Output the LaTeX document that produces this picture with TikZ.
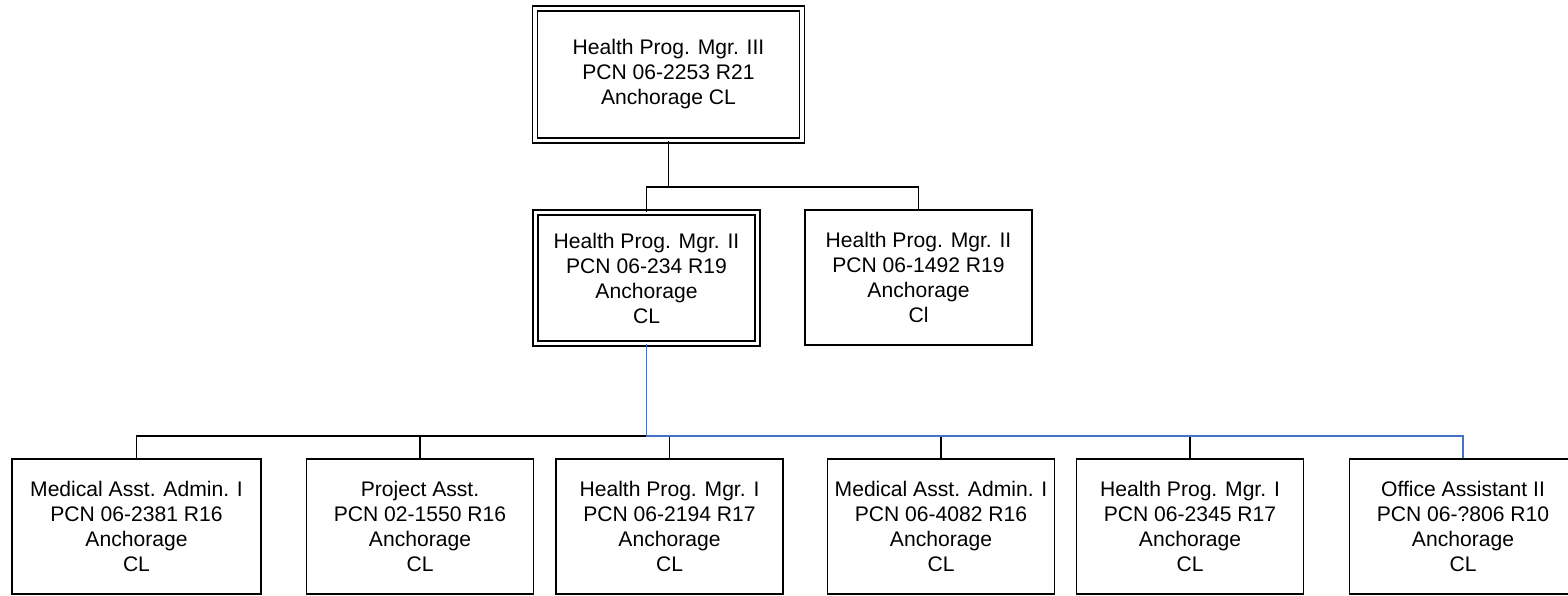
\documentclass[tikz,border=0pt]{standalone}
\usepackage{fontspec}
\setmainfont{Liberation Sans}
\definecolor{linkblue}{RGB}{68,114,196}
\tikzset{
  box/.style={draw=black, line width=1.5pt, fill=white, inner sep=0pt, align=center,
    font=\fontsize{21.1}{25}\selectfont, minimum height=135pt, minimum width=227pt},
  dbox/.style={box, double=white, double distance=3.2pt},
  conn/.style={draw=black, line width=1.7pt},
  blueconn/.style={draw=linkblue, line width=1.7pt},
}
\begin{document}
\begin{tikzpicture}[x=1pt,y=-1pt]
\useasboundingbox (0,0) rectangle (1568,595);
% top
\node[dbox, minimum width=267pt, minimum height=132pt] (top) at (668.5,74.5)
  {Health Prog. Mgr. III\\PCN 06-2253 R21\\Anchorage CL};
% middle
\node[dbox, minimum width=222pt, minimum height=131pt] (m1) at (646.5,278)
  {Health Prog. Mgr. II\\PCN 06-234 R19\\Anchorage\\CL};
\node[box, minimum width=227pt, minimum height=135pt] (m2) at (918.5,277.5)
  {Health Prog. Mgr. II\\PCN 06-1492 R19\\Anchorage\\Cl};
% bottom
\node[box, minimum width=249pt] (b1) at (136.5,526.5)
  {Medical Asst. Admin. I\\PCN 06-2381 R16\\Anchorage\\CL};
\node[box] (b2) at (420,526.5)
  {Project Asst.\\PCN 02-1550 R16\\Anchorage\\CL};
\node[box] (b3) at (669.5,526.5)
  {Health Prog. Mgr. I\\PCN 06-2194 R17\\Anchorage\\CL};
\node[box] (b4) at (941,526.5)
  {Medical Asst. Admin. I\\PCN 06-4082 R16\\Anchorage\\CL};
\node[box] (b5) at (1190,526.5)
  {Health Prog. Mgr. I\\PCN 06-2345 R17\\Anchorage\\CL};
\node[box] (b6) at (1463,526.5)
  {Office Assistant II\\PCN 06-?806 R10\\Anchorage\\CL};
% connectors
\coordinate (tbus) at (0,187);
\coordinate (bus) at (0,436);
\draw[conn] (top.south) -- (top.south |- tbus);
\draw[conn] (m1.north) -- (m1.north |- tbus) -- (m2.north |- tbus) -- (m2.north);
\draw[conn] (b1.north) -- (b1.north |- bus) -- (b5.north |- bus) -- (b5.north);
\draw[conn] (b2.north) -- (b2.north |- bus);
\draw[conn] (b3.north) -- (b3.north |- bus);
\draw[conn] (b4.north) -- (b4.north |- bus);
\draw[blueconn] (m1.south) -- (m1.south |- bus) -- (b6.north |- bus) -- (b6.north);
\end{tikzpicture}
\end{document}
